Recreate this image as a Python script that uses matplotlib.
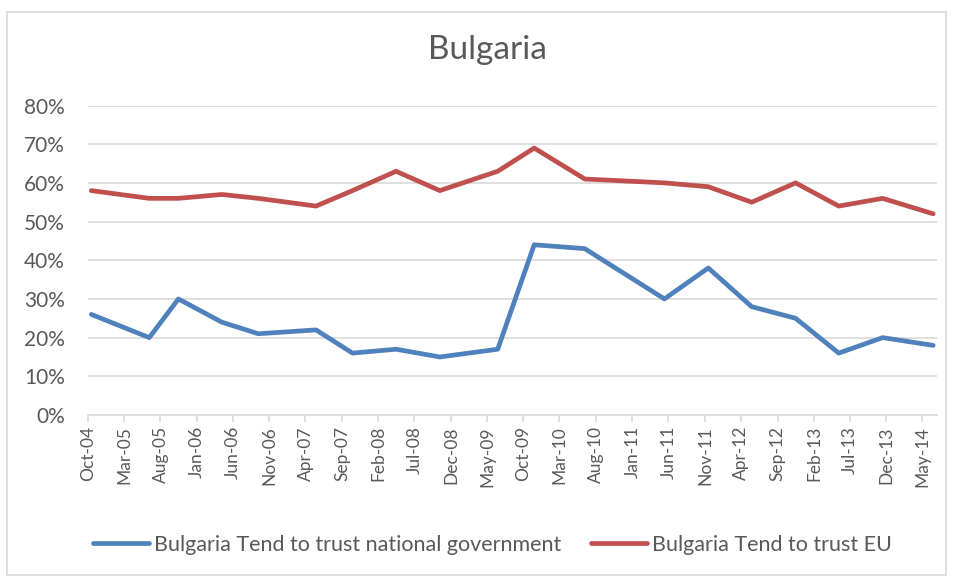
import matplotlib
matplotlib.use("Agg")
import matplotlib.pyplot as plt
import matplotlib.dates as mdates
from matplotlib.patches import Rectangle
from matplotlib.ticker import PercentFormatter, MultipleLocator
import numpy as np
import datetime as dt

# ---- data ----
survey_dates = ["2004-10", "2005-06", "2005-10", "2006-04", "2006-09", "2007-05",
                "2007-10", "2008-04", "2008-10", "2009-06", "2009-11", "2010-06",
                "2011-05", "2011-11", "2012-05", "2012-11", "2013-05", "2013-11",
                "2014-06"]
trust_gov = [26, 20, 30, 24, 21, 22, 16, 17, 15, 17, 44, 43, 30, 38, 28, 25, 16, 20, 18]
trust_eu = [58, 56, 56, 57, 56, 54, 58, 63, 58, 63, 69, 61, 60, 59, 55, 60, 54, 56, 52]
series_names = ["Bulgaria Tend to trust national government",
                "Bulgaria Tend to trust EU"]
title = "Bulgaria"

# ---- styling ----
FONT = ["Lato", "DejaVu Sans"]
plt.rcParams["font.family"] = FONT
TXT = "#595959"
GRID = "#D9D9D9"
BLUE = "#4F81BD"
RED = "#C0504D"

W, H = 954, 582
fig = plt.figure(figsize=(W / 100, H / 100), dpi=100)
ax = fig.add_axes([88 / W, 1 - 415 / H, (937 - 88) / W, (415 - 105.5) / H])

def mid_month(s):
    y, m = map(int, s.split("-"))
    return dt.date(y, m, 15)

x = [mid_month(s) for s in survey_dates]
ax.plot(x, np.array(trust_gov) / 100, color=BLUE, lw=3.4, label=series_names[0],
        solid_capstyle="round", solid_joinstyle="round", zorder=3)
ax.plot(x, np.array(trust_eu) / 100, color=RED, lw=3.4, label=series_names[1],
        solid_capstyle="round", solid_joinstyle="round", zorder=3)

ax.set_xlim(dt.date(2004, 10, 1), dt.date(2014, 7, 1))
ax.set_ylim(0, 0.8)
ax.yaxis.set_major_locator(MultipleLocator(0.1))
ax.yaxis.set_major_formatter(PercentFormatter(1.0, decimals=0))

ticks = []
y, m = 2004, 10
while (y, m) <= (2014, 5):
    ticks.append(dt.date(y, m, 1))
    m += 5
    if m > 12:
        m -= 12
        y += 1
ax.set_xticks(ticks)
ax.xaxis.set_major_formatter(mdates.DateFormatter("%b-%y"))
for lab in ax.get_xticklabels():
    lab.set_rotation(90)

ax.grid(axis="y", color=GRID, lw=1.2)
ax.set_axisbelow(True)
for side in ["top", "right", "left"]:
    ax.spines[side].set_visible(False)
ax.spines["bottom"].set_color(GRID)
ax.spines["bottom"].set_linewidth(1.2)
ax.tick_params(axis="y", length=0, labelsize=15, labelcolor=TXT, pad=16.5)
ax.tick_params(axis="x", length=5, color=GRID, width=1.2, labelsize=12.5,
               labelcolor=TXT, pad=3)

fig.text(487.5 / W, 1 - 50 / H, title, ha="center", va="center", fontsize=24, color=TXT)

fig.legend(loc="center", bbox_to_anchor=(492.5 / W, 1 - 545 / H), ncol=2,
           frameon=False, fontsize=15.5, labelcolor=TXT, handlelength=2.6,
           handletextpad=0.25, columnspacing=1.35)

fig.patches.append(Rectangle((7 / W, 1 - 575 / H), (946 - 7) / W, (575 - 12) / H,
                             transform=fig.transFigure, fill=False,
                             edgecolor=GRID, lw=1.2))

fig.savefig("out.png", dpi=100)
